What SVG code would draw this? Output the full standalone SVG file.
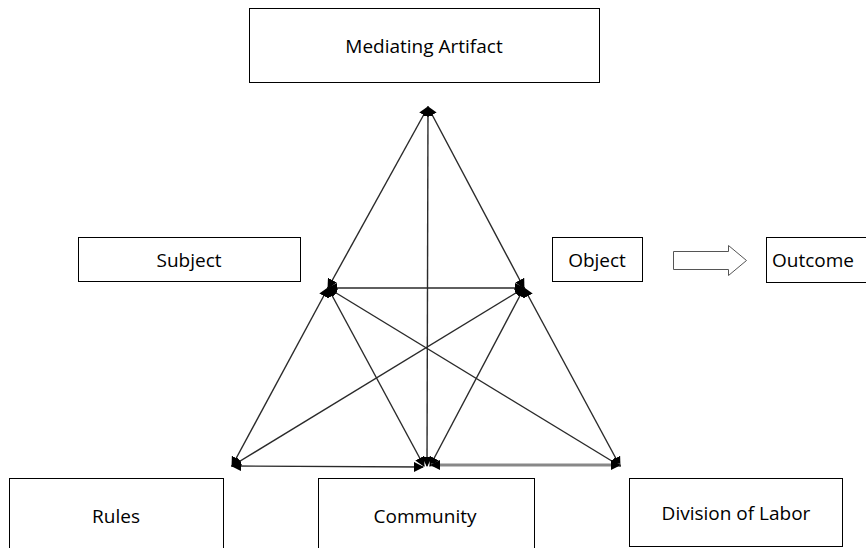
<svg xmlns="http://www.w3.org/2000/svg" width="866" height="548" viewBox="0 0 866 548">
<style>
.box{fill:#fff;stroke:#000;stroke-width:1}
.lbl{font-family:"Open Sans","Noto Sans",sans-serif;font-size:19px;fill:#000;text-anchor:middle;dominant-baseline:central}
.ln{stroke:#2a2a2a;stroke-width:1.4;fill:none;marker-start:url(#ah);marker-end:url(#ah)}
</style>
<defs>
<marker id="ah" viewBox="0 0 10 10" refX="9" refY="5" markerWidth="10" markerHeight="10" markerUnits="userSpaceOnUse" orient="auto-start-reverse">
<path d="M0,0 L10,5 L0,10 z" fill="#000"/>
</marker>
</defs>
<g id="connectors">
<line class="ln" x1="328" y1="288" x2="428" y2="107"/>
<line class="ln" x1="524" y1="288" x2="428" y2="107"/>
<line class="ln" x1="427" y1="466" x2="428" y2="107"/>
<line class="ln" x1="328" y1="288" x2="524" y2="288"/>
<line class="ln" x1="232" y1="466" x2="328" y2="288"/>
<line class="ln" x1="620" y1="466" x2="524" y2="288"/>
<line class="ln" x1="424" y1="466" x2="328" y2="288"/>
<line class="ln" x1="620" y1="466" x2="328" y2="288"/>
<line class="ln" x1="232" y1="466" x2="524" y2="288"/>
<line class="ln" x1="430" y1="466" x2="524" y2="288"/>
<line class="ln" x1="232" y1="466" x2="423" y2="467"/>
<line class="ln" x1="431" y1="465" x2="620" y2="465" style="stroke:#888;stroke-width:3"/>
</g>
<g id="mediating-artifact"><rect class="box" x="249.5" y="8.5" width="350" height="74"/><text class="lbl" x="424" y="46">Mediating Artifact</text></g>
<g id="subject"><rect class="box" x="78.5" y="237.5" width="222" height="44"/><text class="lbl" x="189" y="260">Subject</text></g>
<g id="object"><rect class="box" x="552.5" y="237.5" width="90" height="44"/><text class="lbl" x="597" y="260">Object</text></g>
<g id="outcome-arrow"><path d="M673.5,251.5 H728.5 V245.5 L746.5,260.5 L728.5,275.5 V269.5 H673.5 Z" fill="#fff" stroke="#555" stroke-width="1"/></g>
<g id="outcome"><rect class="box" x="766.5" y="237.5" width="110" height="45"/><text class="lbl" x="772" y="260" style="text-anchor:start">Outcome</text></g>
<g id="rules"><rect class="box" x="9.5" y="478.5" width="214" height="80"/><text class="lbl" x="116" y="516">Rules</text></g>
<g id="community"><rect class="box" x="318.5" y="478.5" width="216" height="80"/><text class="lbl" x="425" y="516">Community</text></g>
<g id="division-of-labor"><rect class="box" x="629.5" y="478.5" width="213" height="68"/><text class="lbl" x="736" y="513">Division of Labor</text></g>
</svg>
